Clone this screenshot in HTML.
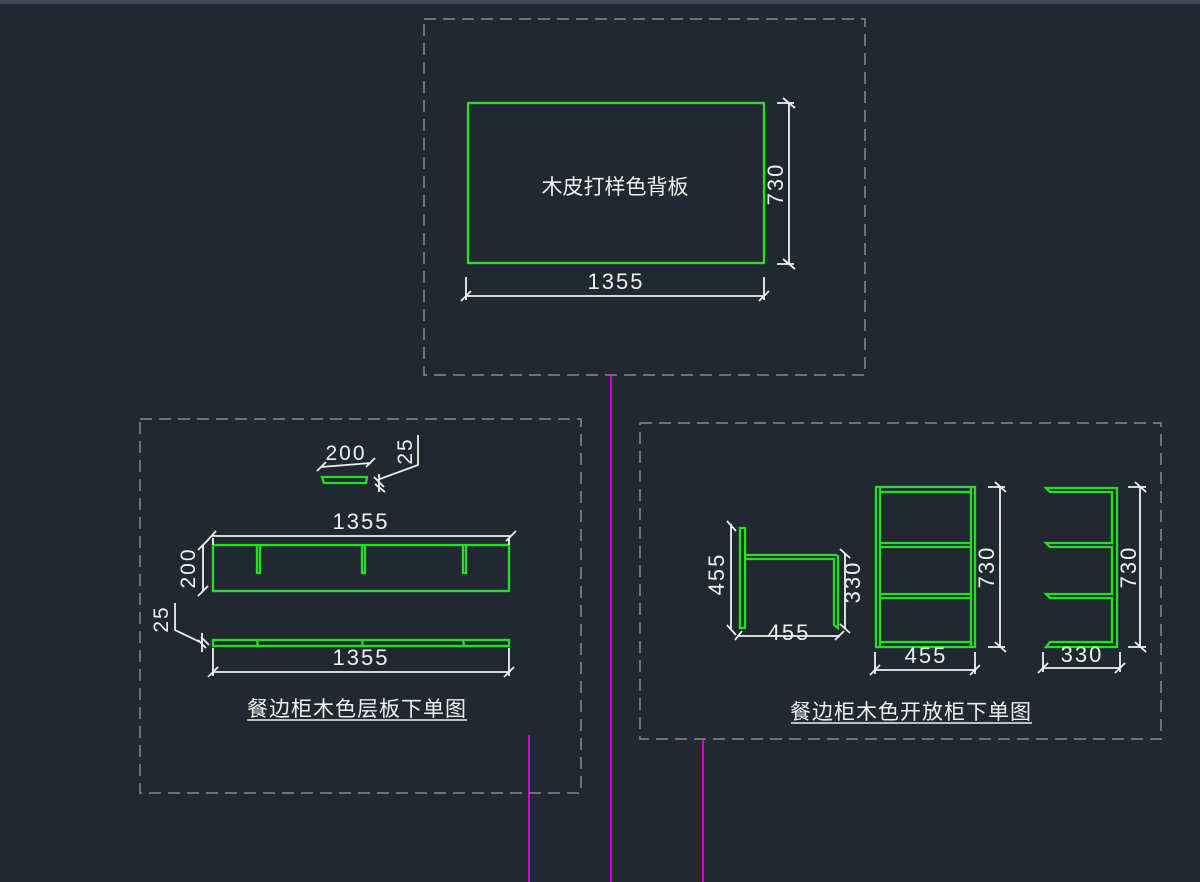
<!DOCTYPE html>
<html><head><meta charset="utf-8"><style>
html,body{margin:0;padding:0;background:#212830;}
svg{display:block}
text{font-family:"Liberation Sans","Noto Sans CJK SC",sans-serif;fill:#f0f0f0}
.n{letter-spacing:2px}
</style></head><body>
<svg width="1200" height="882" viewBox="0 0 1200 882" xmlns="http://www.w3.org/2000/svg">
<rect width="1200" height="882" fill="#212830"/>
<rect width="1200" height="4" fill="#3e4858"/>
<g stroke="#d000d0" stroke-width="2">
<line x1="611" y1="376" x2="611" y2="882"/>
<line x1="529" y1="735" x2="529" y2="882"/>
<line x1="703" y1="739" x2="703" y2="882"/>
</g>
<g fill="none" stroke="#8a8a8a" stroke-width="1.5" stroke-dasharray="12,7">
<rect x="424" y="19" width="441" height="356"/>
<rect x="140" y="419" width="441" height="374"/>
<rect x="640" y="423" width="521" height="316"/>
</g>
<g fill="none" stroke="#22e022" stroke-width="2.3">
<rect x="468" y="103" width="296" height="160"/>
<path d="M322,477 L367,477 L366,483 L324,483 Z"/>
<rect x="213" y="545" width="296" height="46"/>
<path d="M257,546 V573 H260 V546 M362,546 V573 H365 V546 M463,546 V573 H466 V546"/>
<rect x="213" y="640" width="296" height="6"/>
<path d="M257,640 L258,646 M362,640 L363,646 M463,640 L464,646"/>
<rect x="740" y="528" width="5" height="100"/>
<path d="M745,555 H837 M745,559 H834 V625 L838,628 V555"/>
<rect x="876" y="487" width="99" height="160"/>
<path d="M880,487 V647 M971,487 V647 M880,492 H971 M880,543 H971 M880,547 H971 M880,594 H971 M880,598 H971 M880,642 H971"/>
<path d="M1046,488 H1117 V647 H1046 L1050,642 H1112 V598 H1050 L1046,594 H1112 V547 H1050 L1046,543 H1112 V492 H1050 Z"/>
</g>
<g stroke="#f0f0f0" stroke-width="1.8" fill="none">
<path d="M789,103 V264 M777,103 H794 M777,264 H794 M783,98 L795,108 M783,259 L795,269"/>
<path d="M466,296 H764 M466,277 V300 M764,277 V300 M461,301 L471,291 M759,301 L769,291"/>
<path d="M321,467 L371,463 M317,471 L326,462 M366,467 L375,458"/>
<path d="M377,480 L418,465 V435 M374,477 L384,487 M375,484 L385,492 M379,474 V492"/>
<path d="M211,536 H511 M207,541 L216,531 M506,541 L516,531 M213,538 V545 M509,538 V545"/>
<path d="M203,545 V591 M198,550 L208,540 M198,596 L208,586"/>
<path d="M202,643 L175,630 V603 M198,640 L206,648 M201,637 L209,645 M202,633 V652"/>
<path d="M213,672 H509 M213,648 V676 M509,648 V676 M208,677 L218,667 M504,677 L514,667"/>
<path d="M731,524 V630 M727,521 L736,531 M727,625 L736,635"/>
<path d="M737,636 H840 M735,640 L742,631 M835,640 L844,631"/>
<path d="M845,553 V628 M840,549 L850,558 M840,624 L850,633"/>
<path d="M1000,487 V647 M988,487 H1005 M988,647 H1005 M995,482 L1006,492 M995,642 L1006,652"/>
<path d="M875,670 H975 M875,652 V674 M975,652 V674 M870,675 L880,665 M970,675 L980,665"/>
<path d="M1140,487 V647 M1128,487 H1146 M1128,647 H1146 M1135,482 L1146,492 M1135,642 L1146,652"/>
<path d="M1043,668 H1120 M1043,652 V672 M1120,652 V672 M1038,673 L1048,663 M1115,673 L1125,663"/>
</g>
<text x="615" y="194" font-size="21" text-anchor="middle">木皮打样色背板</text>
<text class="n" x="616" y="289" font-size="22" text-anchor="middle">1355</text>
<text class="n" transform="translate(783,184) rotate(-90)" font-size="22" text-anchor="middle">730</text>
<text class="n" x="346" y="460" font-size="21" text-anchor="middle">200</text>
<text class="n" transform="translate(412,451) rotate(-90)" font-size="21" text-anchor="middle">25</text>
<text class="n" x="361" y="529" font-size="22" text-anchor="middle">1355</text>
<text class="n" transform="translate(195,568) rotate(-90)" font-size="21" text-anchor="middle">200</text>
<text class="n" transform="translate(168,619) rotate(-90)" font-size="21" text-anchor="middle">25</text>
<text class="n" x="361" y="665" font-size="22" text-anchor="middle">1355</text>
<text x="357" y="716" font-size="21" text-anchor="middle" letter-spacing="1">餐边柜木色层板下单图</text>
<line x1="247" y1="720" x2="467" y2="720" stroke="#f0f0f0" stroke-width="1.5"/>
<text class="n" transform="translate(724,574) rotate(-90)" font-size="22" text-anchor="middle">455</text>
<text class="n" x="789" y="640" font-size="22" text-anchor="middle">455</text>
<text class="n" transform="translate(860,582) rotate(-90)" font-size="22" text-anchor="middle">330</text>
<text class="n" transform="translate(994,567) rotate(-90)" font-size="22" text-anchor="middle">730</text>
<text class="n" x="926" y="663" font-size="22" text-anchor="middle">455</text>
<text class="n" transform="translate(1136,567) rotate(-90)" font-size="22" text-anchor="middle">730</text>
<text class="n" x="1082" y="662" font-size="22" text-anchor="middle">330</text>
<text x="911" y="719" font-size="21" text-anchor="middle" letter-spacing="1">餐边柜木色开放柜下单图</text>
<line x1="791" y1="723" x2="1032" y2="723" stroke="#f0f0f0" stroke-width="1.5"/>
</svg>
</body></html>
